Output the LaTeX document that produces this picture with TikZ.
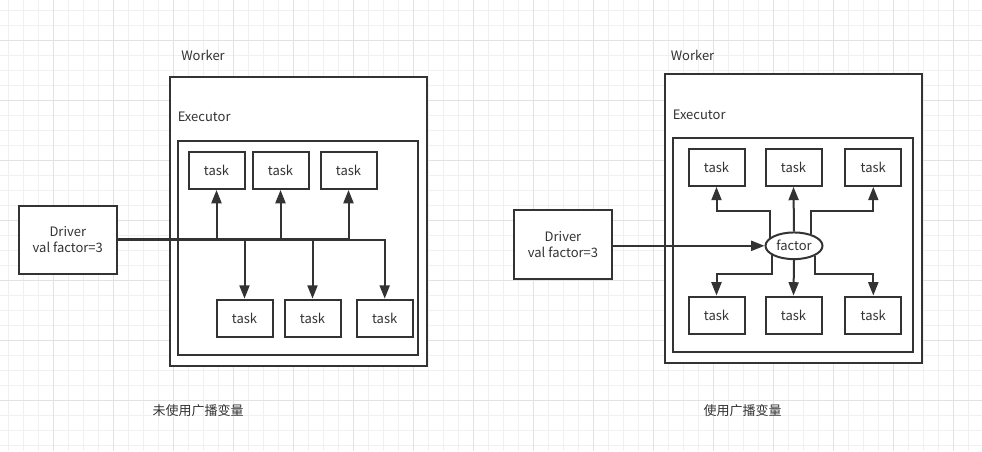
\documentclass[tikz,border=0pt]{standalone}
\usepackage{fontspec}
\setmainfont{Noto Sans CJK SC}
\usetikzlibrary{arrows.meta,shapes.geometric,calc}
\definecolor{ink}{HTML}{333333}
\definecolor{gridminor}{HTML}{F0F0F0}
\definecolor{gridmajor}{HTML}{E2E2E2}
\begin{document}
\begin{tikzpicture}[x=0.75pt,y=-0.75pt,
  every node/.style={font=\fontsize{9.75pt}{11.7pt}\selectfont, text=ink},
  box/.style={draw=ink, line width=1.5pt, fill=white, inner sep=0pt},
  taskbox/.style={box, minimum width=42pt, minimum height=28pt},
  driverbox/.style={box, minimum width=73.9pt, minimum height=51.4pt, align=center},
  outerbox/.style={box, minimum width=192.75pt, minimum height=216.75pt},
  innerbox/.style={box, minimum width=180pt, minimum height=160.6pt},
  factorbox/.style={box, ellipse, minimum width=42.75pt, minimum height=20pt},
  label/.style={anchor=base west, inner sep=0pt},
  arr/.style={draw=ink, line width=1.5pt, -{Triangle[length=10pt,width=7.5pt]}}]
% background and grid
\fill[white] (0,0) rectangle (982,451);
\useasboundingbox (0,0) rectangle (982,451);
\foreach \i in {0,...,65} {\draw[gridminor, line width=0.75pt] (8+15*\i,0) -- (8+15*\i,451);}
\foreach \j in {0,...,29} {\draw[gridminor, line width=0.75pt] (0,10+15*\j) -- (982,10+15*\j);}
\foreach \i in {0,...,16} {\draw[gridmajor, line width=0.75pt] (53+60*\i,0) -- (53+60*\i,451);}
\foreach \j in {0,...,6} {\draw[gridmajor, line width=0.75pt] (0,40+60*\j) -- (982,40+60*\j);}

% ---------- left: without broadcast ----------
\node[label] (lworker) at (181,60.7) {Worker};
\node[outerbox] (louter) at (298.35,221.1) {};
\node[label] (lexec) at (177.5,121.5) {Executor};
\node[innerbox] (linner) at (298.35,247.85) {};
\node[taskbox] (lt1) at (216.5,170.3) {task};
\node[taskbox] (lt2) at (280.5,170.3) {task};
\node[taskbox] (lt3) at (348.5,170.3) {task};
\node[taskbox] (lb1) at (244.5,318.3) {task};
\node[taskbox] (lb2) at (312.5,318.3) {task};
\node[taskbox] (lb3) at (384.7,318.3) {task};
\node[driverbox] (ldrv) at (67.8,239.8) {Driver\\val factor=3};
\draw[arr] ([yshift=0.5pt]ldrv.east) -| (lt1.south);
\draw[arr] ([yshift=0.5pt]ldrv.east) -| (lt2.south);
\draw[arr] ([yshift=0.5pt]ldrv.east) -| (lt3.south);
\draw[arr] ([yshift=-0.5pt]ldrv.east) -| (lb1.north);
\draw[arr] ([yshift=-0.5pt]ldrv.east) -| (lb2.north);
\draw[arr] ([yshift=-0.5pt]ldrv.east) -| (lb3.north);
\node[anchor=center, inner sep=0pt] (lcap) at (198,410.5) {未使用广播变量};

% ---------- right: with broadcast ----------
\node[label] (rworker) at (670.5,60.7) {Worker};
\node[outerbox] (router) at (793.35,218) {};
\node[label] (rexec) at (672.5,119) {Executor};
\node[innerbox] (rinner) at (793.3,244.7) {};
\node[taskbox] (rt1) at (716.5,167.2) {task};
\node[taskbox] (rt2) at (793.5,167.2) {task};
\node[taskbox] (rt3) at (873.3,167.2) {task};
\node[taskbox] (rb1) at (716.5,315.2) {task};
\node[taskbox] (rb2) at (793.5,315.2) {task};
\node[taskbox] (rb3) at (873.3,315.2) {task};
\node[factorbox] (fac) at (794,245.8) {factor};
\node[driverbox] (rdrv) at (563,244.6) {Driver\\val factor=3};
\coordinate (upbend) at (0,211);
\coordinate (dnbend) at (0,274.3);
\draw[arr] (rdrv.east |- fac.west) -- (fac.west);
\draw[arr] (fac.north) -- (rt2.south);
\draw[arr] (fac.south) -- (rb2.north);
\draw[arr] (fac.161) -- (fac.161 |- upbend) -| (rt1.south);
\draw[arr] (fac.35) -- (fac.35 |- upbend) -| (rt3.south);
\draw[arr] (fac.203) -- (fac.203 |- dnbend) -| (rb1.north);
\draw[arr] (fac.335) -- (fac.335 |- dnbend) -| (rb3.north);
\node[anchor=center, inner sep=0pt] (rcap) at (742.5,410.5) {使用广播变量};
\end{tikzpicture}
\end{document}
